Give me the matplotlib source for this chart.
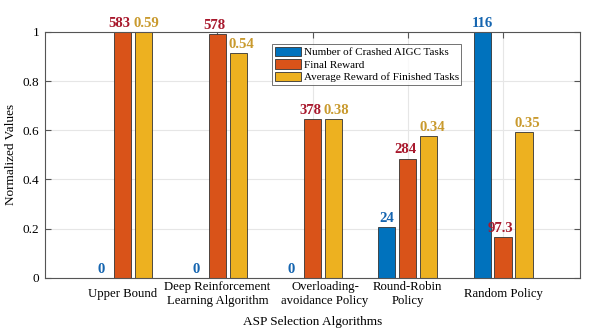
import numpy as np
import matplotlib.pyplot as plt
from matplotlib.transforms import ScaledTranslation

plt.rcParams['font.family'] = ['Liberation Serif', 'DejaVu Serif']

categories = ['Upper Bound', 'Deep Reinforcement\nLearning Algorithm',
              'Overloading-\navoidance Policy', 'Round-Robin\nPolicy', 'Random Policy']
series_names = ['Number of Crashed AIGC Tasks', 'Final Reward',
                'Average Reward of Finished Tasks']

crashed = [0.0, 0.0, 0.0, 0.207, 1.0]
final_reward = [1.0, 0.99, 0.645, 0.485, 0.167]
avg_reward = [1.0, 0.913, 0.645, 0.575, 0.593]

crashed_labels = ['0', '0', '0', '24', '116']
final_labels = ['583', '578', '378', '284', '97.3']
avg_labels = ['0.59', '0.54', '0.38', '0.34', '0.35']

bar_colors = ['#0072BD', '#D95319', '#EDB120']
text_colors = ['#1565B0', '#A8182C', '#C99A2E']

fig = plt.figure(figsize=(6, 3.32), dpi=100)
ax = fig.add_axes([0.075, 0.163, 0.892, 0.741])

x = np.arange(1, len(categories) + 1)
offs = [-0.22, 0.0, 0.22]
nudge = [0, -1.8, 2.2]   # points, keeps neighbouring labels apart
width = 0.18

ax.grid(True, color='#e6e6e6', linewidth=0.8)
ax.set_axisbelow(True)

for vals, labs, off, dx, bc, tc, name in zip([crashed, final_reward, avg_reward],
                                             [crashed_labels, final_labels, avg_labels],
                                             offs, nudge, bar_colors, text_colors, series_names):
    ax.bar(x + off, vals, width, color=bc, edgecolor='#333333', linewidth=0.6, label=name)
    for xi, v, l in zip(x + off, vals, labs):
        ax.annotate(l, (xi, v), xytext=(dx, 1.5), textcoords='offset points',
                    ha='center', va='bottom', color=tc,
                    fontsize=10.6, fontweight='bold')

ax.set_xlim(0.19, 5.81)
ax.set_ylim(0, 1)
ax.set_xticks(x)
ax.set_xticklabels(categories, fontsize=9.2, linespacing=1.3)
ax.set_yticks([0, 0.2, 0.4, 0.6, 0.8, 1.0])
ax.set_yticklabels(['0', '0.2', '0.4', '0.6', '0.8', '1'], fontsize=9.5)
ax.tick_params(direction='in', top=True, right=True, length=4, color='#555555', pad=4)
ax.tick_params(axis='x', pad=11.5)
for lbl in ax.get_xticklabels():
    lbl.set_va('center')
# the overloading label sits a little right of its tick in the original
lab3 = ax.get_xticklabels()[2]
lab3.set_transform(lab3.get_transform() + ScaledTranslation(9 / 72, 0, fig.dpi_scale_trans))

for s in ax.spines.values():
    s.set_color('#555555')
    s.set_linewidth(0.8)

ax.set_xlabel('ASP Selection Algorithms', fontsize=9.5, labelpad=6)
ax.set_ylabel('Normalized Values', fontsize=9.5)

leg = ax.legend(loc='upper left', bbox_to_anchor=(0.425, 0.951), fontsize=8,
                frameon=True, fancybox=False, edgecolor='#333333',
                handlelength=2.3, handleheight=0.9, handletextpad=0.25,
                borderpad=0.25, labelspacing=0.2, borderaxespad=0)
leg.get_frame().set_linewidth(0.6)

fig.savefig('out.png', dpi=100)
